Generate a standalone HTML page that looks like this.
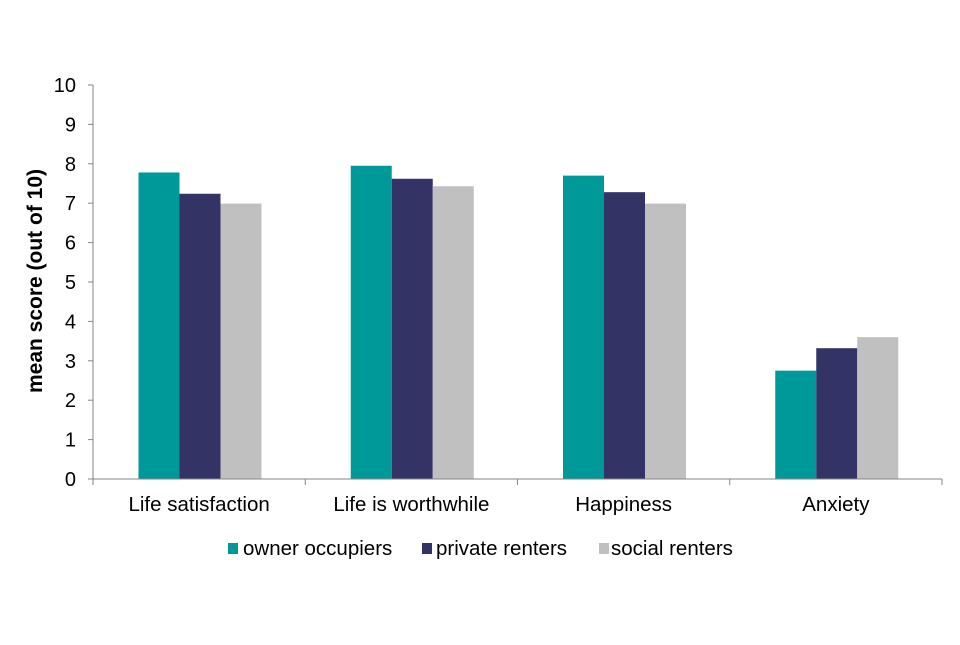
<!DOCTYPE html>
<html><head><meta charset="utf-8"><style>
body{margin:0;background:#fff;}
svg text{font-family:"Liberation Sans",Arial,sans-serif;fill:#000;}
</style></head><body>
<svg id="chart" width="960" height="640" viewBox="0 0 960 640" xmlns="http://www.w3.org/2000/svg">
<g id="plot"></g>
<text transform="translate(42,281) rotate(-90)" text-anchor="middle" font-size="21" font-weight="bold">mean score (out of 10)</text>
<g>
<rect x="228" y="543" width="10" height="11" fill="#009999"/>
<text x="243" y="555" font-size="20.5">owner occupiers</text>
<rect x="422" y="543" width="10" height="11" fill="#333366"/>
<text x="436" y="555" font-size="20.5">private renters</text>
<rect x="599" y="543" width="10" height="11" fill="#c0c0c0"/>
<text x="611" y="555" font-size="20.5">social renters</text>
</g>
</svg>
<script>
const categories = ["Life satisfaction","Life is worthwhile","Happiness","Anxiety"];
const ownerOccupiers = [7.78, 7.95, 7.7, 2.75];
const privateRenters = [7.24, 7.62, 7.28, 3.32];
const socialRenters = [6.99, 7.43, 6.99, 3.6];
const yTicks = [0,1,2,3,4,5,6,7,8,9,10];

const NS = "http://www.w3.org/2000/svg";
const plot = document.getElementById('plot');
const x0 = 93, x1 = 942, yTop = 85, yBot = 479, yMax = 10;
const catW = (x1 - x0) / categories.length;
const y = v => yBot - (v / yMax) * (yBot - yTop);
const xCat = i => x0 + i * catW;
function mk(tag, attrs){ const e = document.createElementNS(NS, tag); for (const k in attrs) e.setAttribute(k, attrs[k]); plot.appendChild(e); return e; }

const series = [[ownerOccupiers,"#009999","owner-occupiers"],[privateRenters,"#333366","private-renters"],[socialRenters,"#c0c0c0","social-renters"]];
const barW = 41, groupOff = 45.5;
series.forEach((s, si) => {
  s[0].forEach((v, i) => {
    const r = mk('rect', {x: xCat(i) + groupOff + si * barW, y: y(v), width: barW, height: yBot - y(v), fill: s[1]});
    
    
  });
});

const ya = mk('line', {x1: x0, y1: yTop, x2: x0, y2: yBot, stroke: '#868686', 'stroke-width': 1});


yTicks.forEach(t => {
  const tl = mk('line', {x1: x0 - 5, y1: y(t), x2: x0, y2: y(t), stroke: '#868686'});
  
  
  const tx = mk('text', {x: x0 - 17, y: y(t) + 7, 'text-anchor': 'end', 'font-size': 20});
  tx.textContent = t;
  
  
});
const xa = mk('line', {x1: x0, y1: yBot, x2: x1, y2: yBot, stroke: '#868686'});


for (let i = 0; i <= categories.length; i++) {
  const tl = mk('line', {x1: xCat(i), y1: yBot, x2: xCat(i), y2: yBot + 6, stroke: '#868686'});
  
  
}
categories.forEach((c, i) => {
  const tx = mk('text', {x: xCat(i) + catW / 2, y: 511, 'text-anchor': 'middle', 'font-size': 20.5});
  tx.textContent = c;
  
  
});
</script>
</body></html>
